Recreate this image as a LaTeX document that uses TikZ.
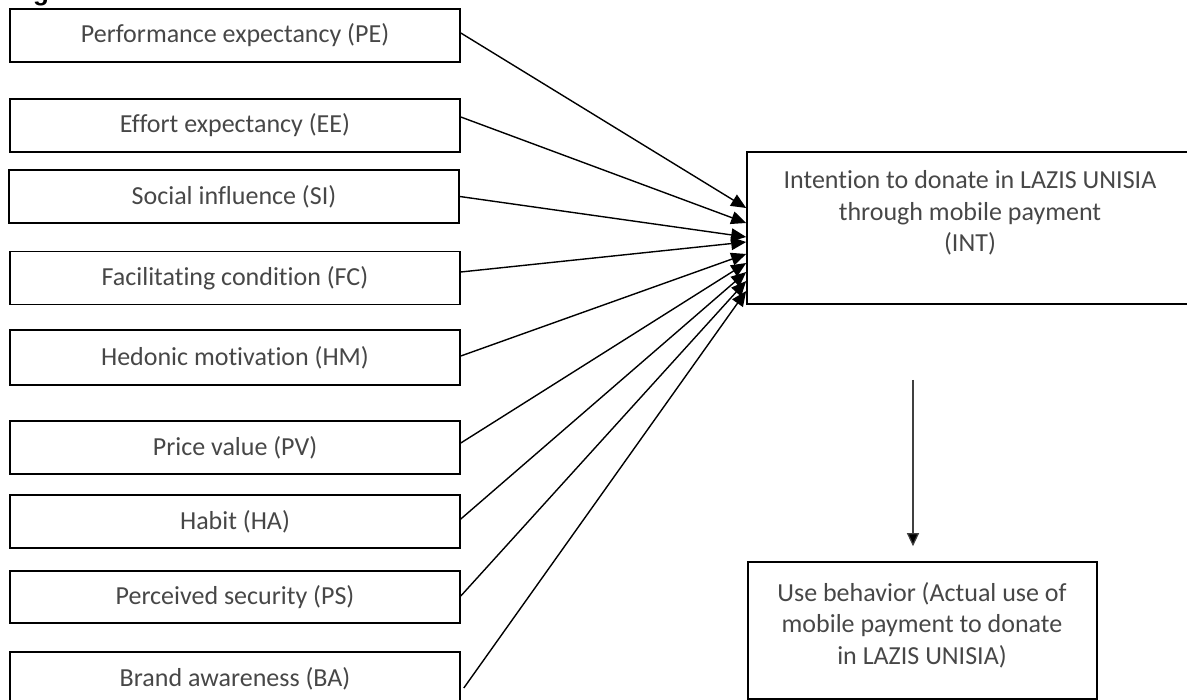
\documentclass[tikz,border=0pt]{standalone}
\usepackage{fontspec}
\setmainfont[Ligatures={NoCommon,NoRequired,NoContextual}]{Carlito}
\newfontfamily\headfont{Liberation Sans}
\usetikzlibrary{arrows.meta}

\tikzset{
  factor/.style={draw=black, line width=1.6pt, minimum width=450pt, minimum height=53pt,
                 inner sep=0pt, text=black!72, font=\fontsize{26}{31.7}\selectfont},
  bigbox/.style={draw=black, line width=1.6pt, inner sep=0pt},
  boxtext/.style={align=center, text=black!72, inner sep=0pt, font=\fontsize{26}{31.7}\selectfont},
  path/.style={line width=1.4pt, -{Triangle[length=15pt,width=13pt]}},
  vert/.style={line width=1.2pt, draw=black!75, -{Triangle[length=13pt,width=12pt,fill=black]}}
}

\begin{document}
\begin{tikzpicture}[x=1pt, y=-1pt]
\useasboundingbox (0,0) rectangle (1187,700);

% heading fragment at the top edge
\node[anchor=base west, inner sep=0pt, font=\headfont\bfseries\fontsize{26}{30}\selectfont]
  (head) at (33,0.5) {g};

% predictor constructs
\node[factor] (pe) at (235,35.5)  {Performance expectancy (PE)};
\node[factor] (ee) at (235,125.5) {Effort expectancy (EE)};
\node[factor] (si) at (234,196.5) {Social influence (SI)};
\node[factor] (fc) at (235,278)   {Facilitating condition (FC)};
\node[factor, minimum height=55pt] (hm) at (235,357.5) {Hedonic motivation (HM)};
\node[factor] (pv) at (235,447.5) {Price value (PV)};
\node[factor] (ha) at (235,521.5) {Habit (HA)};
\node[factor, minimum height=52pt] (ps) at (235,597) {Perceived security (PS)};
\node[factor] (ba) at (235,678.5) {Brand awareness (BA)};

% intention construct
\node[bigbox, minimum width=450pt, minimum height=152pt] (int) at (972,228) {};
\node[boxtext] (inttext) at (970,213)
  {Intention to donate in LAZIS UNISIA\\through mobile payment\\(INT)};

% use behaviour construct
\node[bigbox, minimum width=349pt, minimum height=137pt] (use) at (922.5,630.5) {};
\node[boxtext] (usetext) at (922,625)
  {Use behavior (Actual use of\\mobile payment to donate\\in LAZIS UNISIA)};

% paths into intention
\draw[path] ([yshift=2.5pt]pe.east) -- ([yshift=20pt]int.west);
\draw[path] ([yshift=8.5pt]ee.east) -- ([yshift=5pt]int.west);
\draw[path] (si.east)               -- ([yshift=-9pt]int.west);
\draw[path] ([yshift=6pt]fc.east)   -- ([yshift=-14pt]int.west);
\draw[path] ([yshift=1.5pt]hm.east) -- ([yshift=-26pt]int.west);
\draw[path] ([yshift=4.5pt]pv.east) -- ([yshift=-35pt]int.west);
\draw[path] ([yshift=2.5pt]ha.east) -- ([yshift=-44pt]int.west);
\draw[path] ([yshift=1pt]ps.east)   -- ([yshift=-53pt]int.west);
\draw[path] ([xshift=3pt,yshift=-9.5pt]ba.east) -- ([yshift=-63pt]int.west);

% intention to use behaviour
\coordinate (down) at (913,380);
\draw[vert] (down) -- ([yshift=15pt]use.north -| down);
\end{tikzpicture}
\end{document}
